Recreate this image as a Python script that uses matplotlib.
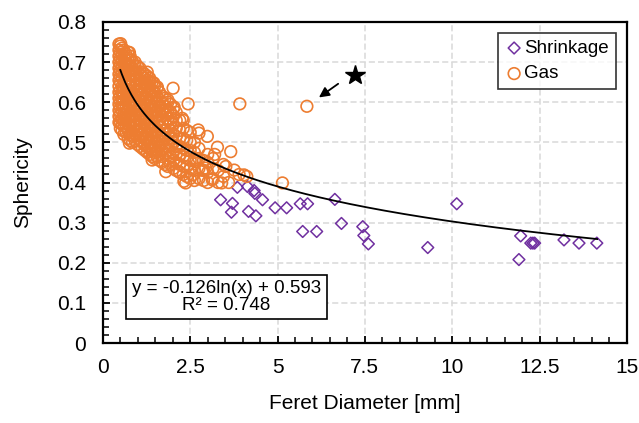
import numpy as np
import matplotlib
matplotlib.use("Agg")
from matplotlib import pyplot as plt
from matplotlib.ticker import MultipleLocator

plt.rcParams['font.family'] = ['Liberation Sans', 'DejaVu Sans']

# shrinkage porosity (x = Feret diameter [mm], y = sphericity)
shrink_x = [3.37, 3.71, 3.68, 3.85, 4.14, 4.33, 4.35, 4.17, 4.38, 4.57, 4.93,
            5.26, 5.65, 5.86, 5.72, 6.12, 6.64, 6.83, 7.44, 7.47, 7.60, 9.30,
            10.13, 11.96, 11.91, 12.25, 12.31, 12.36, 13.20, 13.63, 14.14]
shrink_y = [0.357, 0.348, 0.326, 0.388, 0.390, 0.380, 0.373, 0.328, 0.317,
            0.357, 0.337, 0.337, 0.347, 0.347, 0.278, 0.278, 0.358, 0.298,
            0.290, 0.268, 0.247, 0.238, 0.347, 0.267, 0.208, 0.249, 0.249,
            0.249, 0.257, 0.249, 0.249]

# gas porosity, dense cluster read column by column
gas_col_x = [0.46, 0.50, 0.55, 0.60, 0.66, 0.72, 0.78, 0.85, 0.92, 0.99, 1.06,
             1.13, 1.20, 1.27, 1.34, 1.41, 1.48, 1.55, 1.62, 1.70, 1.78, 1.86,
             1.94, 2.02, 2.10, 2.20, 2.30, 2.40, 2.50, 2.62, 2.75, 2.88, 3.00,
             3.15, 3.30, 3.45]
gas_col_y = [
    [0.55, 0.565, 0.58, 0.595, 0.61, 0.625, 0.64, 0.655, 0.67, 0.685, 0.70, 0.715, 0.73, 0.745],
    [0.535, 0.55, 0.57, 0.585, 0.60, 0.615, 0.63, 0.65, 0.665, 0.68, 0.695, 0.71, 0.725, 0.74],
    [0.53, 0.545, 0.56, 0.58, 0.595, 0.61, 0.625, 0.64, 0.66, 0.675, 0.69, 0.705, 0.72, 0.735],
    [0.52, 0.54, 0.555, 0.57, 0.59, 0.605, 0.62, 0.635, 0.65, 0.67, 0.685, 0.70, 0.715, 0.73],
    [0.525, 0.54, 0.56, 0.575, 0.59, 0.61, 0.625, 0.64, 0.655, 0.675, 0.69, 0.705, 0.72],
    [0.51, 0.53, 0.545, 0.56, 0.58, 0.595, 0.61, 0.63, 0.645, 0.66, 0.68, 0.695, 0.71, 0.725],
    [0.505, 0.52, 0.54, 0.555, 0.57, 0.59, 0.605, 0.62, 0.64, 0.655, 0.67, 0.69, 0.705, 0.715],
    [0.50, 0.515, 0.535, 0.55, 0.565, 0.585, 0.60, 0.615, 0.635, 0.65, 0.665, 0.685, 0.70],
    [0.505, 0.52, 0.54, 0.555, 0.57, 0.59, 0.605, 0.62, 0.64, 0.655, 0.67, 0.69, 0.70],
    [0.495, 0.51, 0.53, 0.545, 0.56, 0.58, 0.595, 0.61, 0.63, 0.645, 0.66, 0.675, 0.69],
    [0.49, 0.505, 0.52, 0.54, 0.555, 0.57, 0.59, 0.605, 0.62, 0.64, 0.655, 0.67, 0.685],
    [0.485, 0.50, 0.52, 0.535, 0.55, 0.57, 0.585, 0.60, 0.62, 0.635, 0.65, 0.665, 0.675],
    [0.48, 0.495, 0.51, 0.53, 0.545, 0.56, 0.58, 0.595, 0.61, 0.63, 0.645, 0.66, 0.67],
    [0.475, 0.49, 0.51, 0.525, 0.54, 0.56, 0.575, 0.59, 0.61, 0.625, 0.64, 0.655, 0.665],
    [0.47, 0.485, 0.50, 0.52, 0.535, 0.55, 0.57, 0.585, 0.60, 0.62, 0.635, 0.65, 0.66],
    [0.465, 0.48, 0.50, 0.515, 0.53, 0.55, 0.565, 0.58, 0.60, 0.615, 0.63, 0.65],
    [0.46, 0.475, 0.49, 0.51, 0.525, 0.54, 0.56, 0.575, 0.59, 0.61, 0.625, 0.64],
    [0.465, 0.48, 0.50, 0.515, 0.53, 0.55, 0.565, 0.58, 0.60, 0.615, 0.635],
    [0.455, 0.47, 0.49, 0.505, 0.52, 0.54, 0.555, 0.57, 0.59, 0.605, 0.625],
    [0.45, 0.465, 0.48, 0.50, 0.515, 0.53, 0.55, 0.565, 0.58, 0.60, 0.615],
    [0.445, 0.47, 0.49, 0.51, 0.53, 0.55, 0.57, 0.59, 0.61],
    [0.44, 0.46, 0.48, 0.50, 0.52, 0.54, 0.56, 0.58, 0.60],
    [0.445, 0.465, 0.49, 0.51, 0.53, 0.55, 0.575, 0.595],
    [0.435, 0.455, 0.475, 0.50, 0.52, 0.545, 0.565, 0.585],
    [0.43, 0.45, 0.47, 0.49, 0.515, 0.535, 0.555, 0.575],
    [0.425, 0.445, 0.47, 0.49, 0.51, 0.53, 0.555],
    [0.42, 0.44, 0.465, 0.485, 0.51, 0.535, 0.555],
    [0.415, 0.44, 0.46, 0.48, 0.505, 0.53],
    [0.41, 0.435, 0.455, 0.48, 0.50, 0.525],
    [0.405, 0.43, 0.455, 0.475, 0.50],
    [0.41, 0.435, 0.46, 0.485],
    [0.405, 0.43, 0.455],
    [0.40, 0.425, 0.45, 0.47],
    [0.41, 0.435, 0.46],
    [0.40, 0.43],
    [0.415, 0.445],
]

# scattered gas pores outside the dense cluster
gas_extra_x = [0.51, 0.76, 1.27, 1.46, 1.56, 2.01, 1.86, 2.44, 2.04, 2.27, 2.73,
               0.76, 1.41, 1.80, 2.18, 2.32, 2.75, 2.99, 2.66, 2.94, 2.56, 3.92,
               3.28, 3.66, 3.52, 4.04, 4.12, 3.76, 5.14, 3.40, 3.13, 2.37, 2.85,
               5.84, 3.20, 3.60, 3.90]
gas_extra_y = [0.746, 0.724, 0.675, 0.648, 0.638, 0.635, 0.606, 0.596, 0.588,
               0.560, 0.531, 0.498, 0.456, 0.427, 0.427, 0.403, 0.523, 0.515,
               0.452, 0.436, 0.419, 0.596, 0.488, 0.477, 0.440, 0.419, 0.415,
               0.431, 0.399, 0.399, 0.407, 0.399, 0.431, 0.590, 0.470, 0.400,
               0.420]

# logarithmic trend line
fit_a = -0.126
fit_b = 0.593
fit_range = (0.5, 14.15)

star_xy = (7.22, 0.667)
arrow_tail = (6.80, 0.650)
arrow_head = (6.12, 0.608)

gas_x = []
gas_y = []
for cx, ys in zip(gas_col_x, gas_col_y):
    gas_x += [cx] * len(ys)
    gas_y += ys
gas_x += gas_extra_x
gas_y += gas_extra_y

fig = plt.figure(figsize=(6.39, 4.23), dpi=100)
ax = fig.add_axes([0.161, 0.189, 0.82, 0.759])

ax.scatter(shrink_x, shrink_y, marker='D', s=36, facecolors='none',
           edgecolors='#7030A0', linewidths=1.1, label='Shrinkage', zorder=3)
ax.scatter(gas_x, gas_y, marker='o', s=70, facecolors='none',
           edgecolors='#ED7D31', linewidths=1.2, label='Gas', zorder=3)

xf = np.linspace(fit_range[0], fit_range[1], 300)
ax.plot(xf, fit_a * np.log(xf) + fit_b, color='black', lw=1.3, zorder=4)

ax.plot(*star_xy, marker='*', color='black', markersize=15, zorder=5)
ax.annotate('', xy=arrow_head, xytext=arrow_tail,
            arrowprops=dict(arrowstyle='-|>', color='black', lw=1.3,
                            mutation_scale=15), zorder=5)

ax.text(3.54, 0.115, 'y = -0.126ln(x) + 0.593\nR² = 0.748', ha='center',
        va='center', fontsize=13.5, linespacing=0.95, zorder=6,
        bbox=dict(boxstyle='square,pad=0.3', fc='white', ec='black', lw=1.2))

ax.set_xlim(0, 15)
ax.set_ylim(0, 0.8)
ax.xaxis.set_major_locator(MultipleLocator(2.5))
ax.xaxis.set_minor_locator(MultipleLocator(0.5))
ax.yaxis.set_major_locator(MultipleLocator(0.1))
ax.yaxis.set_minor_locator(MultipleLocator(0.02))
ax.xaxis.set_major_formatter(plt.FuncFormatter(lambda v, p: f'{v:g}'))
ax.yaxis.set_major_formatter(plt.FuncFormatter(lambda v, p: f'{v:g}'))
ax.tick_params(which='both', direction='in', labelsize=15, colors='black')
ax.tick_params(which='major', length=5, width=1.3)
ax.tick_params(which='minor', length=4, width=1.1)
ax.tick_params(axis='x', which='major', pad=11)
ax.tick_params(axis='y', which='major', pad=12)
ax.grid(True, which='major', color='#D9D9D9', linestyle=(0, (4, 2)), lw=1.1)
ax.set_axisbelow(True)
for s in ax.spines.values():
    s.set_color('black')
    s.set_linewidth(1.6)

ax.set_xlabel('Feret Diameter [mm]', fontsize=15, labelpad=12)
ax.set_ylabel('Sphericity', fontsize=15, labelpad=18)

leg = ax.legend(loc='upper right', fontsize=13.5, frameon=True, fancybox=False,
                edgecolor='black', handletextpad=0.05, borderpad=0.35,
                handlelength=1.0, labelspacing=0.45, borderaxespad=0.6)
leg.get_frame().set_linewidth(1.2)

fig.savefig('out.png', dpi=100)
